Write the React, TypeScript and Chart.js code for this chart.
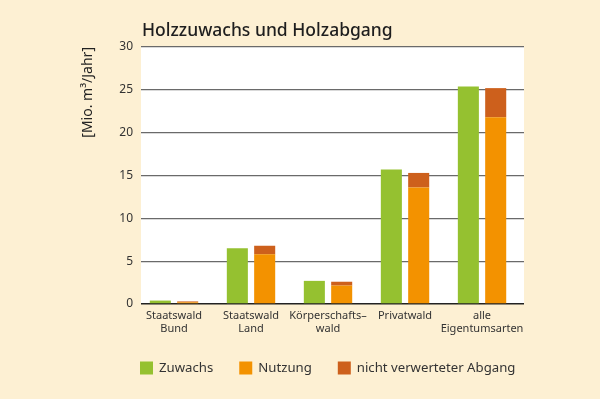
import React, { useEffect, useRef } from 'react';
import { Chart, registerables } from 'chart.js';

Chart.register(...registerables);

const titleText = 'Holzzuwachs und Holzabgang';
const yAxisTitle = '[Mio. m³/Jahr]';
const categories: string[][] = [
  ['Staatswald', 'Bund'],
  ['Staatswald', 'Land'],
  ['Körperschafts–', 'wald'],
  ['Privatwald'],
  ['alle', 'Eigentumsarten'],
];
const seriesLabels = ['Zuwachs', 'Nutzung', 'nicht verwerteter Abgang'];
const zuwachs = [0.4, 6.5, 2.7, 15.7, 25.4];
const nutzung = [0.2, 5.8, 2.15, 13.6, 21.8];
const abgang = [0.1, 1.0, 0.45, 1.7, 3.4];
const yTicks = [0, 5, 10, 15, 20, 25, 30];

const COLORS = ['#95c130', '#f39200', '#cd601c'];
const BG = '#fdf0d3';
const FONT = "'Noto Sans', 'DejaVu Sans', sans-serif";

const decorPlugin = {
  id: 'decor',
  beforeDraw(chart: any) {
    const { ctx, chartArea } = chart;
    ctx.save();
    ctx.fillStyle = BG;
    ctx.fillRect(0, 0, chart.width, chart.height);
    ctx.fillStyle = '#ffffff';
    ctx.fillRect(chartArea.left, chartArea.top, chartArea.right - chartArea.left, chartArea.bottom - chartArea.top);
    ctx.restore();
  },
  afterDraw(chart: any) {
    const { ctx, chartArea } = chart;
    ctx.save();
    // title
    ctx.fillStyle = '#1e1e1e';
    ctx.font = `500 17.5px ${FONT}`;
    ctx.textAlign = 'left';
    ctx.textBaseline = 'alphabetic';
    ctx.fillText(titleText, chartArea.left + 1, 36);
    // legend
    ctx.font = `13.2px ${FONT}`;
    ctx.textBaseline = 'middle';
    let x = chartArea.left - 1;
    const y = 368;
    seriesLabels.forEach((lab, i) => {
      ctx.fillStyle = COLORS[i];
      ctx.fillRect(x, y - 6.5, 13, 13);
      ctx.fillStyle = '#333333';
      ctx.fillText(lab, x + 19, y);
      x += 19 + ctx.measureText(lab).width + 26;
    });
    ctx.restore();
  },
};

export default function App() {
  const ref = useRef<HTMLCanvasElement | null>(null);
  useEffect(() => {
    if (!ref.current) return;
    const chart = new Chart(ref.current, {
      type: 'bar',
      data: {
        datasets: [
          {
            label: seriesLabels[0],
            data: zuwachs.map((v, i) => ({ x: i, y: v })),
            backgroundColor: COLORS[0],
            borderWidth: 0,
            stack: 's1',
          },
          {
            label: seriesLabels[1],
            data: nutzung.map((v, i) => ({ x: i, y: v })),
            backgroundColor: COLORS[1],
            borderWidth: 0,
            stack: 's2',
          },
          {
            label: seriesLabels[2],
            data: abgang.map((v, i) => ({ x: i, y: v })),
            backgroundColor: COLORS[2],
            borderWidth: 0,
            stack: 's2',
          },
        ],
      },
      options: {
        animation: false,
        responsive: false,
        maintainAspectRatio: false,
        categoryPercentage: 0.71,
        barPercentage: 0.77,
        layout: { padding: { left: 80, right: 76, top: 47, bottom: 55 } },
        plugins: {
          legend: { display: false },
          title: { display: false },
          tooltip: { enabled: false },
        },
        scales: {
          x: {
            type: 'linear',
            stacked: true,
            offset: false,
            min: -0.4286,
            max: 4.545,
            grid: { display: false, drawTicks: false },
            border: { display: false },
            afterBuildTicks: (scale: any) => {
              scale.ticks = categories.map((_, i) => ({ value: i }));
            },
            afterFit: (scale: any) => {
              scale.height = 40;
            },
            ticks: {
              autoSkip: false,
              maxRotation: 0,
              padding: 5,
              color: '#333333',
              font: { family: FONT, size: 11 },
              callback: (v: any) => categories[Math.round(Number(v))] ?? '',
            },
          },
          y: {
            type: 'linear',
            stacked: true,
            min: 0,
            max: 30,
            afterBuildTicks: (scale: any) => {
              scale.ticks = yTicks.map((v) => ({ value: v }));
            },
            afterFit: (scale: any) => {
              scale.width = 61;
            },
            grid: {
              drawTicks: false,
              color: (c: any) => (c.tick && c.tick.value === 0 ? '#222222' : '#6a6a6a'),
              lineWidth: (c: any) => (c.tick && c.tick.value === 0 ? 1.5 : 1.3),
            },
            border: { display: false },
            ticks: {
              padding: 8,
              color: '#333333',
              font: { family: FONT, size: 12 },
            },
            title: {
              display: true,
              text: yAxisTitle,
              align: 'end',
              color: '#222222',
              padding: 0,
              font: { family: FONT, size: 14 },
            },
          },
        },
      },
      plugins: [decorPlugin],
    } as any);
    return () => chart.destroy();
  }, []);
  return (
    <div style={{ position: 'fixed', left: 0, top: 0, width: 600, height: 399, background: BG }}>
      <canvas ref={ref} width={600} height={399} style={{ display: 'block', width: 600, height: 399 }} />
    </div>
  );
}
